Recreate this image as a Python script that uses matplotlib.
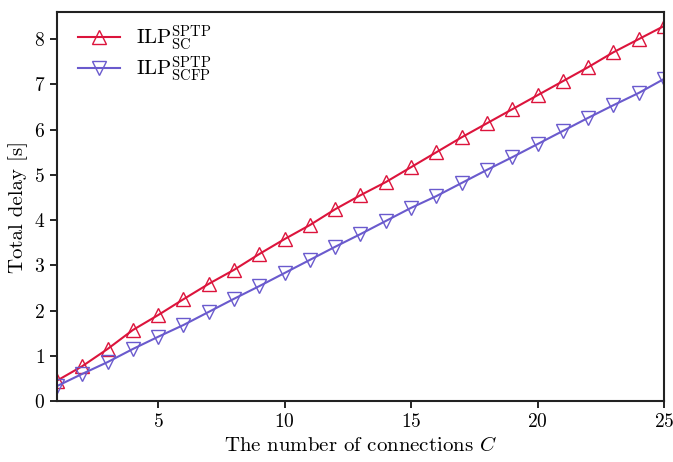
import numpy as np
import matplotlib.pyplot as plt

plt.rcParams['font.family'] = 'serif'
plt.rcParams['font.serif'] = ['cmr10']
plt.rcParams['mathtext.fontset'] = 'cm'
plt.rcParams['axes.formatter.use_mathtext'] = True

C = np.arange(1, 26)
delay_sc = [0.45, 0.77, 1.15, 1.57, 1.90, 2.25, 2.59, 2.90, 3.25, 3.58, 3.89, 4.24, 4.55,
            4.84, 5.17, 5.50, 5.83, 6.14, 6.45, 6.76, 7.07, 7.38, 7.71, 8.00, 8.29]
delay_scfp = [0.33, 0.60, 0.86, 1.15, 1.42, 1.68, 1.97, 2.26, 2.54, 2.83, 3.12, 3.41, 3.69,
              3.98, 4.27, 4.53, 4.82, 5.11, 5.39, 5.68, 5.97, 6.26, 6.54, 6.81, 7.12]

fig = plt.figure(figsize=(6.73, 4.62), dpi=100)
ax = fig.add_axes([57/673, 61/462, 607/673, 389/462])

ax.plot(C, delay_sc, color='#dc143c', lw=1.5, marker='^', ms=10, mfc='none', mew=1.0,
        label=r'$\mathrm{ILP}^{\mathrm{SPTP}}_{\mathrm{SC}}$')
ax.plot(C, delay_scfp, color='#6a5acd', lw=1.5, marker='v', ms=10, mfc='none', mew=1.0,
        label=r'$\mathrm{ILP}^{\mathrm{SPTP}}_{\mathrm{SCFP}}$')

ax.set_xlim(1, 25)
ax.set_ylim(0, 8.6)
ax.set_xticks([5, 10, 15, 20, 25])
ax.set_yticks(range(0, 9))
ax.tick_params(direction='out', length=5, width=1.2, labelsize=14, top=False, right=False)
for s in ax.spines.values():
    s.set_linewidth(1.5)
    s.set_color('#222222')

ax.set_xlabel(r'The number of connections $C$', fontsize=15)
ax.set_ylabel('Total delay [s]', fontsize=15)
ax.legend(loc='upper left', bbox_to_anchor=(0, 1.025), frameon=False, fontsize=15,
          handlelength=2.0, borderaxespad=0.6, labelspacing=0.1, handletextpad=0.8)

fig.savefig('out.png', dpi=100)
